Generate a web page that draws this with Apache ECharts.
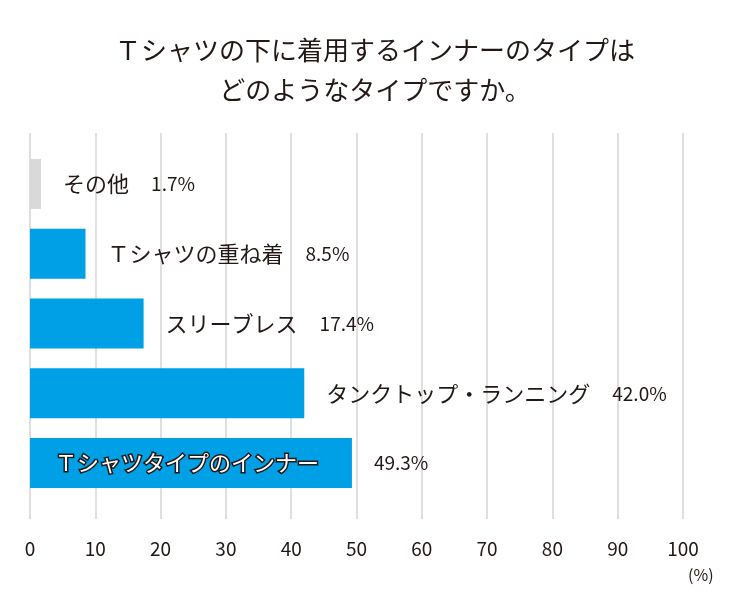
<!DOCTYPE html>
<html><head><meta charset="utf-8">
<script src="https://cdn.jsdelivr.net/npm/echarts@6/dist/echarts.min.js"></script>
<style>html,body{margin:0;padding:0;background:#fff}#c{width:750px;height:609px}</style>
</head><body><div id="c"></div>
<script>
const titleText = 'Ｔシャツの下に着用するインナーのタイプは\nどのようなタイプですか。';
const categories = ['その他', 'Ｔシャツの重ね着', 'スリーブレス', 'タンクトップ・ランニング', 'Ｔシャツタイプのインナー'];
const values = [1.7, 8.5, 17.4, 42.0, 49.3];
const nameInside = [false, false, false, false, true];
const barColors = ['#d9d9d9', '#00a0e6', '#00a0e6', '#00a0e6', '#00a0e6'];
const axisMin = 0, axisMax = 100, axisStep = 10;
const unitLabel = '(%)';

const FONT = '"Noto Sans CJK JP", "Noto Sans", sans-serif';
const TXT = '#231815';
const chart = echarts.init(document.getElementById('c'), null, {renderer: 'canvas'});

chart.setOption({
  backgroundColor: '#fff',
  animation: false,
  title: {
    text: titleText, left: 'center', top: 25,
    textStyle: {fontFamily: FONT, fontSize: 26, fontWeight: 'normal', color: TXT, lineHeight: 40}
  },
  grid: [
    {left: 30, right: 67, top: 149, bottom: 111},
    {left: 30, right: 67, top: 133, bottom: 90}
  ],
  xAxis: [
    {gridIndex: 0, type: 'value', min: axisMin, max: axisMax, interval: axisStep,
     axisLine: {show: false}, axisTick: {show: false}, axisLabel: {show: false}, splitLine: {show: false}},
    {gridIndex: 1, type: 'value', min: axisMin, max: axisMax, interval: axisStep,
     axisLine: {show: false}, axisTick: {show: false},
     axisLabel: {margin: 20, fontFamily: FONT, fontSize: 19, color: TXT},
     splitLine: {show: true, lineStyle: {color: '#d4d4d4', width: 1.5}}}
  ],
  yAxis: [
    {gridIndex: 0, type: 'category', data: categories, inverse: true,
     axisLine: {show: false}, axisTick: {show: false}, axisLabel: {show: false}},
    {gridIndex: 1, type: 'category', data: [], show: false}
  ],
  graphic: [{
    type: 'text', left: 688, top: 567,
    style: {text: unitLabel, fontFamily: FONT, fontSize: 16, fill: TXT}
  }],
  series: [
    {
      type: 'bar', xAxisIndex: 0, yAxisIndex: 0, barWidth: 50, barGap: '-100%', z: 2,
      data: values.map((v, i) => ({value: v, itemStyle: {color: barColors[i]}})),
      label: {
        show: true, position: 'right', distance: 22,
        formatter: p => nameInside[p.dataIndex]
          ? '{v|' + p.value.toFixed(1) + '%}'
          : '{n|' + categories[p.dataIndex] + '}{v|' + p.value.toFixed(1) + '%}',
        rich: {
          n: {fontFamily: FONT, fontSize: 22, color: TXT, padding: [0, 22, 0, 0]},
          v: {fontFamily: FONT, fontSize: 19, color: TXT}
        }
      }
    },
    {
      type: 'bar', xAxisIndex: 0, yAxisIndex: 0, barWidth: 50, barGap: '-100%', z: 3, silent: true,
      data: values.map((v, i) => ({
        value: v,
        itemStyle: {color: 'rgba(0,0,0,0)'},
        label: {show: nameInside[i]}
      })),
      label: {
        show: false, position: 'insideLeft', distance: 25,
        formatter: p => categories[p.dataIndex],
        fontFamily: FONT, fontSize: 22, fontWeight: 'normal', color: '#fff',
        textBorderColor: '#231815', textBorderWidth: 3
      }
    }
  ]
});
</script></body></html>
